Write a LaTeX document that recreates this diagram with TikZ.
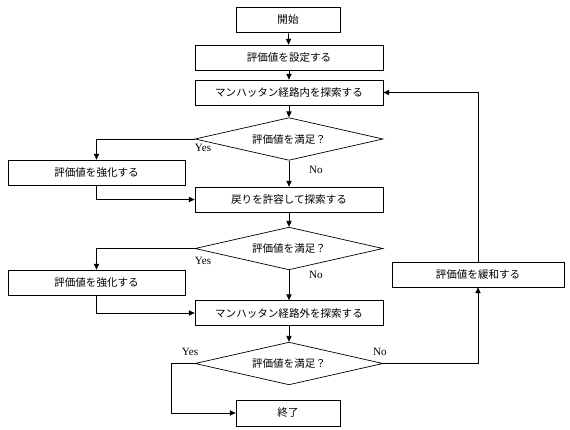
\documentclass[tikz,border=0pt]{standalone}
\usepackage{fontspec}
\setmainfont{Liberation Serif}
\newfontfamily\jpfont{Noto Sans CJK JP}
\usetikzlibrary{shapes.geometric,arrows.meta}

\begin{document}
\begin{tikzpicture}[x=0.03cm, y=-0.03cm, >={Triangle[length=5pt,width=4.5pt]}, line width=0.6pt,
      proc/.style={draw, minimum width=5.64cm, minimum height=0.75cm, inner sep=1pt, font=\jpfont\fontsize{9pt}{10pt}\selectfont},
      term/.style={proc, minimum width=3.12cm},
      side/.style={proc, minimum width=5.31cm},
      check/.style={draw, diamond, shape aspect=4.4, minimum width=5.64cm, minimum height=1.28cm, inner sep=0pt, font=\jpfont\fontsize{9pt}{10pt}\selectfont},
      lab/.style={font=\fontsize{9.5pt}{10pt}\selectfont, inner sep=0pt}]
      \useasboundingbox (0,0) rectangle (570,430);
      \node[term] (start) at (288,19.5) {開始};
      \node[proc] (setv) at (289,57.5) {評価値を設定する};
      \node[proc] (searchin) at (289,92.5) {マンハッタン経路内を探索する};
      \node[check] (chk1) at (289,139) {評価値を満足？};
      \node[side] (str1) at (96.5,172.5) {評価値を強化する};
      \node[proc] (back) at (289,199.5) {戻りを許容して探索する};
      \node[check] (chk2) at (289,248.5) {評価値を満足？};
      \node[side] (str2) at (96.5,282.5) {評価値を強化する};
      \node[proc, minimum width=5.16cm] (relax) at (478,274.5) {評価値を緩和する};
      \node[proc] (searchout) at (289,313) {マンハッタン経路外を探索する};
      \node[check] (chk3) at (289,363.5) {評価値を満足？};
      \node[term, minimum height=0.78cm] (finish) at (288,413) {終了};
      \node[lab] (yes1) at (203,148) {Yes};
      \node[lab] (no1) at (316,170) {No};
      \node[lab] (yes2) at (203,261) {Yes};
      \node[lab] (no2) at (316,275) {No};
      \node[lab] (yes3) at (190,352) {Yes};
      \node[lab] (no3) at (380,352) {No};
      \coordinate (loop) at (171,363.5);
      \draw[->] (start) -- (setv);
      \draw[->] (setv) -- (searchin);
      \draw[->] (searchin) -- (chk1);
      \draw[->] (chk1.west) -| (str1.north);
      \draw[->] (chk1.south) -- (back.north);
      \draw[->] (str1.south) |- (back.west);
      \draw[->] (back) -- (chk2);
      \draw[->] (chk2.west) -| (str2.north);
      \draw[->] (chk2.south) -- (searchout.north);
      \draw[->] (str2.south) |- (searchout.west);
      \draw[->] (searchout) -- (chk3);
      \draw[->] (chk3.west) -- (loop) |- (finish.west);
      \draw[->] (chk3.east) -| (relax.south);
      \draw[->] (relax.north) |- (searchin.east);
    \end{tikzpicture}
\end{document}
